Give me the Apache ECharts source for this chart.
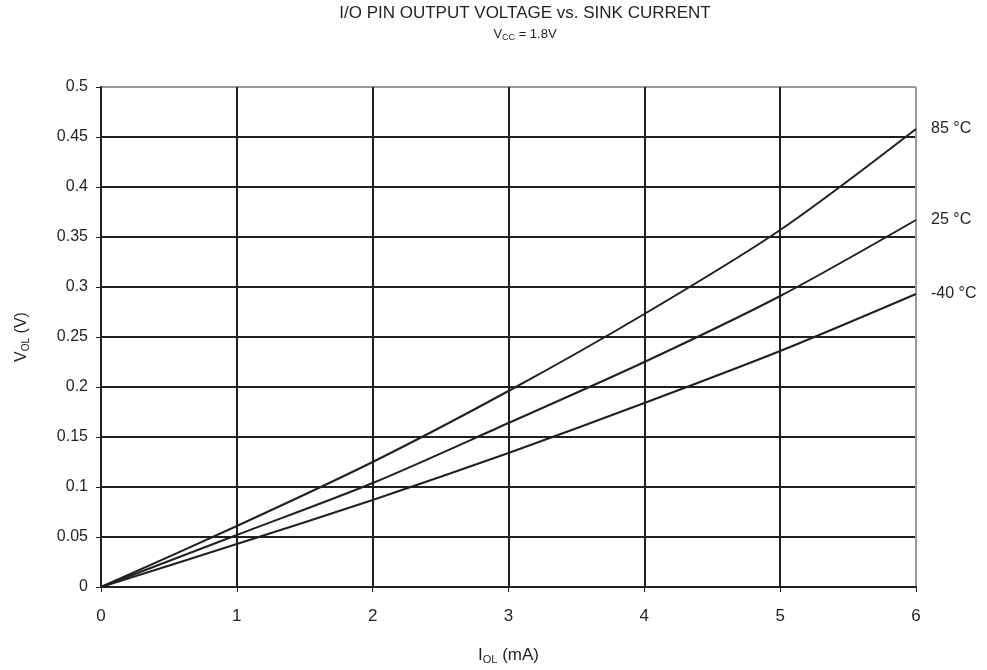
<!DOCTYPE html>
<html>
<head>
<meta charset="utf-8">
<script src="https://cdn.jsdelivr.net/npm/echarts@6/dist/echarts.min.js"></script>
<style>
  html, body { margin: 0; padding: 0; background: #fff; }
  #chart { width: 987px; height: 670px; }
</style>
</head>
<body>
<div id="chart"></div>
<script>
// sink current (mA)
var current = [0, 1, 2, 3, 4, 5, 6];
// output voltage (V) per temperature
var v85 = [0, 0.061, 0.125, 0.196, 0.273, 0.357, 0.458];
var v25 = [0, 0.052, 0.104, 0.164, 0.225, 0.291, 0.367];
var vM40 = [0, 0.043, 0.087, 0.134, 0.184, 0.236, 0.293];
var tempNames = ["85 °C", "25 °C", "-40 °C"];

var ink = "#231f20";
var edge = "#9a9a9a";

function pairs(ys) {
  return current.map(function (x, i) { return [x, ys[i]]; });
}

function curve(name, ys) {
  return {
    name: name,
    type: "line",
    data: pairs(ys),
    smooth: 0.3,
    symbol: "none",
    lineStyle: { color: ink, width: 2 },
    endLabel: {
      show: true,
      formatter: "{a}",
      distance: 15,
      color: ink,
      fontSize: 16,
      fontFamily: "Liberation Sans, Arial, sans-serif"
    },
    z: 5
  };
}

var chart = echarts.init(document.getElementById("chart"));

var yColors = [];
for (var i = 0; i < 10; i++) yColors.push(ink);
yColors.push(edge);
var xColors = [ink, ink, ink, ink, ink, ink, edge];

chart.setOption({
  animation: false,
  textStyle: { fontFamily: "Liberation Sans, Arial, sans-serif" },
  title: {
    left: 520,
    top: 0,
    textAlign: "center",
    itemGap: 5,
    text: "I/O PIN OUTPUT VOLTAGE vs. SINK CURRENT",
    textStyle: { fontSize: 17, fontWeight: "normal", color: ink },
    subtext: "V{s|CC} = 1.8V",
    subtextStyle: {
      fontSize: 13,
      color: ink,
      rich: { s: { fontSize: 9, padding: [6, 0, 0, 0] } }
    }
  },
  grid: { left: 101, right: 71, top: 87, bottom: 80 },
  xAxis: {
    type: "value",
    min: 0,
    max: 6,
    interval: 1,
    name: "I{s|OL} (mA)",
    nameLocation: "middle",
    nameGap: 58,
    nameTextStyle: {
      fontSize: 17,
      color: ink,
      rich: { s: { fontSize: 11, padding: [9, 0, 0, 0] } }
    },
    axisLine: { lineStyle: { color: ink, width: 2 } },
    axisTick: { show: true, length: 5, lineStyle: { color: ink } },
    axisLabel: { fontSize: 17, color: ink, margin: 21 },
    splitLine: { show: true, lineStyle: { color: xColors, width: 2 } }
  },
  yAxis: {
    type: "value",
    min: 0,
    max: 0.5,
    interval: 0.05,
    name: "V{s|OL} (V)",
    nameLocation: "middle",
    nameGap: 70,
    nameTextStyle: {
      fontSize: 16,
      color: ink,
      rich: { s: { fontSize: 10, padding: [8, 0, 0, 0] } }
    },
    axisLine: { show: true, lineStyle: { color: ink, width: 2 } },
    axisTick: { show: true, length: 5, lineStyle: { color: ink } },
    axisLabel: { fontSize: 16, color: ink, margin: 13 },
    splitLine: { show: true, lineStyle: { color: yColors, width: 2 } }
  },
  series: [
    curve(tempNames[0], v85),
    curve(tempNames[1], v25),
    curve(tempNames[2], vM40)
  ]
});
</script>
</body>
</html>
